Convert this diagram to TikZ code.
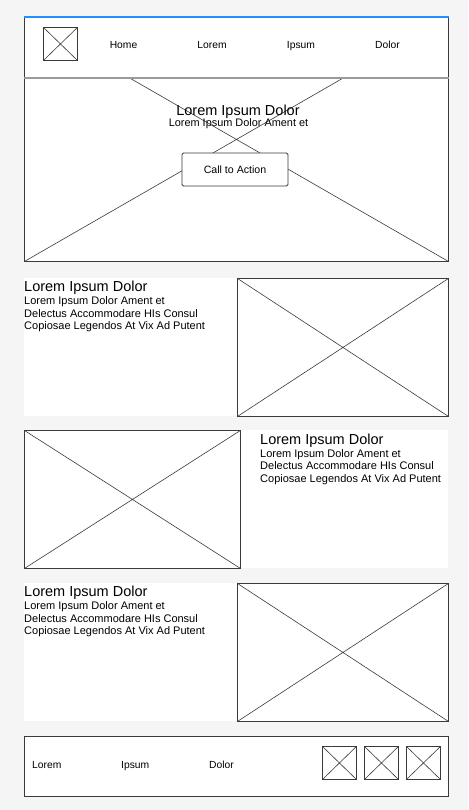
\documentclass[tikz,border=0pt]{standalone}
\usepackage{fontspec}
\setmainfont{Liberation Sans}
\definecolor{pagebg}{HTML}{F5F5F5}
\definecolor{wire}{HTML}{3A3A3A}
\definecolor{divider}{HTML}{9A9A9A}
\definecolor{topbar}{HTML}{1E90FF}
\tikzset{
	placeholder/.style={draw=wire, fill=white, line width=0.9pt, inner sep=0pt, anchor=north west,
		path picture={\draw[wire, line width=0.6pt] (path picture bounding box.north west) -- (path picture bounding box.south east)
			(path picture bounding box.south west) -- (path picture bounding box.north east);}},
	navtext/.style={font=\fontsize{10.3}{12}\selectfont, inner sep=0pt, anchor=base},
	headtext/.style={font=\fontsize{14.5}{16}\selectfont, inner sep=0pt, anchor=base west},
	bodytext/.style={font=\fontsize{11}{12.6}\selectfont, inner sep=0pt, align=left, anchor=north west},
	panel/.style={fill=white, inner sep=0pt, anchor=north west, minimum height=138pt}
}
\begin{document}
\begin{tikzpicture}[x=1pt, y=-1pt]
	\useasboundingbox[fill=pagebg] (0,0) rectangle (468,810);
	% hero and header
	\node[placeholder, minimum width=424pt, minimum height=244pt] (hero) at (24,17) {};
	\node[draw=wire, fill=white, line width=0.9pt, inner sep=0pt, anchor=north west, minimum width=424pt, minimum height=60pt] (header) at (24,17) {};
	\draw[divider, line width=1.6pt] (header.south west) -- (header.south east);
	\draw[topbar, line width=2.6pt] (header.north west) -- (header.north east);
	\node[placeholder, minimum width=34pt, minimum height=33pt] (logo) at (43,27) {};
	\foreach \x/\t [count=\i] in {123.5/Home, 212/Lorem, 301/Ipsum, 387.5/Dolor}
		\node[navtext] (nav\i) at (\x,49) {\t};
	\node[font=\fontsize{14.5}{16}\selectfont, inner sep=0pt, anchor=base] (herotitle) at (238,115.5) {Lorem Ipsum Dolor};
	\node[font=\fontsize{10.9}{12}\selectfont, inner sep=0pt, anchor=base] (herosub) at (238.5,127) {Lorem Ipsum Dolor Ament et};
	\node[draw=wire, fill=white, line width=0.9pt, rounded corners=1.5pt, minimum width=106pt, minimum height=33pt, font=\fontsize{10.6}{12}\selectfont] (cta) at (235,169.5) {Call to Action};
	% section 1
	\node[panel, minimum width=424pt] (sec1) at (24,278) {};
	\node[placeholder, minimum width=211pt, minimum height=138pt] (img1) at (237,278) {};
	\node[headtext] (title1) at (24,291.5) {Lorem Ipsum Dolor};
	\node[bodytext] (body1) at (24,296.6) {Lorem Ipsum Dolor Ament et\\Delectus Accommodare HIs Consul\\Copiosae Legendos At Vix Ad Putent};
	% section 2
	\node[panel, minimum width=424pt] (sec2) at (24,430) {};
	\node[placeholder, minimum width=216pt, minimum height=138pt] (img2) at (24,430) {};
	\node[headtext] (title2) at (260,444.1) {Lorem Ipsum Dolor};
	\node[bodytext] (body2) at (260,449.2) {Lorem Ipsum Dolor Ament et\\Delectus Accommodare HIs Consul\\Copiosae Legendos At Vix Ad Putent};
	% section 3
	\node[panel, minimum width=424pt] (sec3) at (24,583) {};
	\node[placeholder, minimum width=211pt, minimum height=138pt] (img3) at (237,583) {};
	\node[headtext] (title3) at (24,596.5) {Lorem Ipsum Dolor};
	\node[bodytext] (body3) at (24,601.6) {Lorem Ipsum Dolor Ament et\\Delectus Accommodare HIs Consul\\Copiosae Legendos At Vix Ad Putent};
	% footer
	\node[draw=wire, fill=white, line width=0.9pt, inner sep=0pt, anchor=north west, minimum width=424pt, minimum height=60pt] (footer) at (24,736) {};
	\foreach \x/\t [count=\i] in {32/Lorem, 121/Ipsum, 209/Dolor}
		\node[navtext, anchor=base west] (foot\i) at (\x,768) {\t};
	\foreach \x [count=\i] in {322, 364, 406}
		\node[placeholder, minimum width=34pt, minimum height=33pt] (icon\i) at (\x,746) {};
\end{tikzpicture}
\end{document}
